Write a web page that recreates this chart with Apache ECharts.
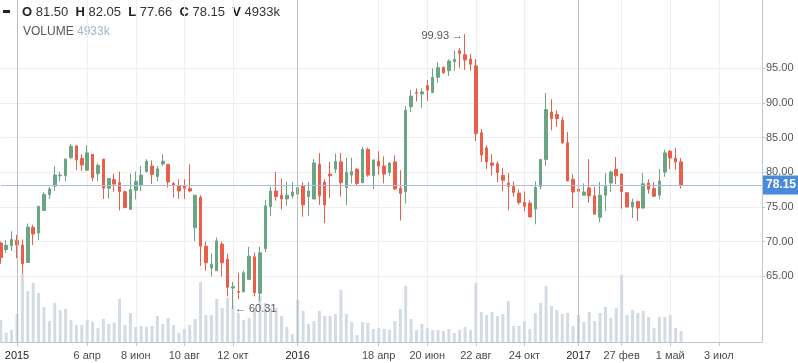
<!DOCTYPE html>
<html><head><meta charset="utf-8">
<script src="https://cdn.jsdelivr.net/npm/echarts@6/dist/echarts.min.js"></script>
<style>html,body{margin:0;padding:0;background:#fff}#c{width:798px;height:363px}</style>
</head><body><div id="c"></div>
<script>
// weekly bars, first bar = week of 2014-12-15
const firstWeek = '2014-12-15';
const weekCount = 142;
// [open, close, low, high]
const ohlc = [
[69.8,67.7,66.8,70.0],[68.85,69.47,68.4,70.2],[69.4,70.3,68.65,71.5],
[70.2,69.5,67.6,71.0],[69.5,66.8,65.3,70.3],[67.0,72.1,66.9,72.6],[72.07,71.1,69.5,72.45],
[71.25,75.1,70.2,75.1],[74.5,76.8,74.5,77.1],[76.8,77.6,76.15,77.9],[78.0,79.6,77.3,80.9],
[79.5,79.6,78.7,80.1],[79.5,81.9,78.7,82.0],[82.1,83.75,82.0,84.1],[83.8,81.8,80.3,83.9],
[82.0,81.05,80.2,82.6],[80.3,82.8,80.2,83.9],[82.6,79.2,78.7,82.6],[79.8,81.0,78.75,81.3],
[81.9,77.7,76.15,81.9],[77.7,79.1,76.2,79.1],[78.95,78.3,77.2,79.8],[78.5,77.2,74.5,80.1],
[77.2,74.9,74.85,77.4],[74.65,77.5,74.65,79.8],[77.4,78.7,76.1,80.1],[78.1,79.6,77.3,80.9],
[80.1,81.6,79.95,81.9],[80.9,79.7,78.3,81.7],[79.4,80.5,78.7,80.9],[81.2,81.6,80.9,82.6],
[81.15,78.6,77.8,81.15],[78.4,78.1,76.4,78.6],[78.0,77.3,76.15,79.0],[78.0,77.7,76.15,79.0],
[77.65,77.3,77.1,81.15],[72.0,76.7,70.1,76.7],[76.4,69.35,66.5,76.7],[69.35,66.95,65.8,70.0],
[66.2,66.75,64.95,68.3],[65.8,70.1,65.8,70.6],[69.65,66.95,64.95,70.0],[67.45,63.4,62.1,68.3],
[63.3,63.5,60.31,64.2],[62.8,62.7,61.7,65.5],[62.75,65.5,62.7,65.8],[64.55,67.9,64.5,69.25],
[67.8,62.65,62.1,68.4],[62.55,68.4,61.4,69.25],[69.0,75.15,68.5,76.0],[75.05,77.3,73.7,77.9],
[77.3,76.5,75.9,80.05],[76.7,76.15,74.65,79.1],[76.15,76.7,75.15,78.6],[76.6,77.15,76.2,78.6],
[76.85,77.8,76.2,81.5],[78.1,75.3,73.6,78.6],[76.5,77.3,73.7,78.6],[76.15,81.35,76.15,81.9],
[81.15,76.6,75.3,82.8],[78.6,75.3,72.65,79.0],[79.75,79.5,76.25,81.5],[80.45,81.6,79.9,82.7],
[81.5,78.5,76.5,82.8],[77.8,80.0,75.3,82.1],[79.6,80.1,78.4,82.1],[80.45,78.4,78.15,80.65],
[78.5,83.3,78.4,83.65],[83.3,79.6,79.35,83.55],[79.5,81.75,77.6,81.9],[81.6,80.9,79.6,83.05],
[80.9,79.75,78.4,82.3],[80.0,81.3,79.5,81.5],[81.5,77.6,77.45,82.45],[77.7,76.95,73.05,80.3],
[77.2,88.95,75.5,89.55],[89.45,91.0,88.7,91.85],[91.5,91.4,90.2,92.1],[91.3,91.6,89.3,92.1],
[92.5,91.85,90.3,93.3],[91.5,93.7,91.45,95.0],[93.7,95.1,92.9,95.85],[95.15,94.35,94.2,95.25],
[94.65,96.05,93.9,96.3],[95.95,96.3,94.65,97.55],[97.55,97.1,95.0,97.9],[96.95,96.2,94.75,99.93],
[96.35,95.6,94.65,97.1],[95.35,85.6,84.5,96.35],[85.7,82.5,81.5,86.2],[83.5,81.5,80.5,83.9],
[81.35,81.0,79.55,82.6],[81.25,79.95,78.6,81.6],[79.55,78.85,77.25,80.6],[78.45,77.95,74.5,79.9],
[77.95,77.1,76.5,78.7],[77.0,75.65,75.35,77.55],[75.65,75.1,74.4,77.25],[75.55,73.55,73.55,75.95],
[74.7,77.8,72.5,78.7],[77.95,81.85,77.55,81.95],[81.85,89.05,80.9,91.45],[88.7,87.75,86.05,90.55],
[88.35,87.75,86.55,88.95],[87.5,84.25,84.05,88.0],[84.25,78.75,78.75,85.8],[79.0,77.15,74.85,79.7],
[77.6,77.25,76.5,80.2],[76.7,77.15,76.7,78.4],[77.75,76.6,75.6,81.9],[76.6,73.95,73.95,77.9],
[73.5,76.7,72.8,78.6],[76.7,78.0,74.4,79.9],[78.45,80.05,77.15,80.25],[80.45,79.5,78.3,82.2],
[79.75,77.2,74.75,79.9],[77.05,75.0,74.9,77.15],[75.0,75.7,73.4,76.2],[75.8,74.85,73.0,75.8],
[74.85,78.35,74.75,79.9],[78.45,77.55,76.9,79.0],[77.65,76.55,76.45,78.6],[76.7,78.75,76.1,80.45],
[80.05,82.8,79.35,83.25],[83.05,82.05,80.45,83.25],[82.05,81.5,80.4,83.5],[81.5,78.15,77.66,82.05]
];
// volume, thousands
const volumes = [
9856,4170,5376,
12544,30330,22850,26430,21950,15680,9410,17470,14200,14780,9860,7620,7620,9860,9090,6270,10300,
8060,8650,19260,7620,12990,6720,7170,6850,7170,11650,8060,10750,7620,4030,5820,7620,10300,26880,
12100,12100,19260,15230,19710,16130,12990,9860,10750,14340,20610,17470,15230,15230,11650,6720,3580,
18820,13890,8060,9410,13890,11650,11650,12540,23300,12540,8960,3140,8960,8510,5820,6270,5820,5380,
9410,14780,25090,10300,5380,8060,6270,5380,5380,4930,5820,4030,5380,6720,5380,26430,13440,12100,
13440,11650,12540,18370,7170,7170,9410,5820,12990,17470,25090,16130,14340,12540,12990,7170,12100,
8960,13440,9410,12990,15680,10750,15230,30020,12100,14340,12990,13890,11200,6270,11200,11200,12100,
6270,4933
];
const tickDates = ['2015-01-05','2015-04-06','2015-06-08','2015-08-10','2015-10-12','2016-01-04','2016-04-18','2016-06-20','2016-08-22','2016-10-24','2017-01-02','2017-02-27','2017-05-01','2017-07-03'];
const tickLabels = ['2015','6 апр','8 июн','10 авг','12 окт','2016','18 апр','20 июн','22 авг','24 окт','2017','27 фев','1 май','3 июл'];
const yearDates = ['2015-01-05','2016-01-04','2017-01-02'];
const priceMin = 65, priceMax = 95, priceStep = 5;

const cats = [];
let d = new Date(firstWeek + 'T00:00:00Z');
for (let i = 0; i < weekCount; i++) { cats.push(d.toISOString().slice(0, 10)); d = new Date(d.getTime() + 7 * 864e5); }
const labelMap = {};
tickDates.forEach((t, i) => labelMap[t] = tickLabels[i]);
const candleData = cats.map((c, i) => i < ohlc.length ? ohlc[i] : '-');
const volData = cats.map((c, i) => i < volumes.length ? volumes[i] : '-');
const last = ohlc[ohlc.length - 1];
const lastVol = volumes[volumes.length - 1];
const isTick = (idx, val) => labelMap.hasOwnProperty(val);

const FONT = 'Liberation Sans, Arial, sans-serif';
const AX = '#b9c6d4';
const L = 0.8, R = 36;
const chart = echarts.init(document.getElementById('c'), null, {renderer: 'canvas'});
const fmtK = v => v + 'k';
chart.setOption({
  animation: false,
  backgroundColor: '#fff',
  textStyle: {fontFamily: FONT},
  grid: [
    {left: L, right: R, top: -1, height: 346.6, outerBoundsMode: 'none'},
    {left: L, right: R, top: 68.3, height: 208, outerBoundsMode: 'none'},
    {left: L, right: R, top: 0, height: 342, outerBoundsMode: 'none'}
  ],
  xAxis: [
    {type: 'category', gridIndex: 0, data: cats, boundaryGap: false, show: false},
    {type: 'category', gridIndex: 1, data: cats, boundaryGap: false, show: false},
    {type: 'category', gridIndex: 2, data: cats, boundaryGap: false,
      axisLine: {show: true, lineStyle: {color: AX}},
      axisTick: {show: true, interval: isTick, length: 4, lineStyle: {color: AX}},
      axisLabel: {interval: isTick, margin: 8, fontSize: 11, color: '#4d4d4d', fontFamily: FONT,
        formatter: v => { const t = labelMap[v] || ''; return /^\d{4}$/.test(t) ? '{y|' + t + '}' : t; },
        rich: {y: {color: '#222', fontSize: 11, fontFamily: FONT}}},
      splitLine: {show: true, interval: isTick, lineStyle: {color: '#efefef', width: 1}}}
  ],
  yAxis: [
    {type: 'value', gridIndex: 0, min: 55, max: 105, show: false},
    {type: 'value', gridIndex: 1, position: 'right', min: priceMin, max: priceMax, interval: priceStep,
      axisLine: {show: false},
      axisTick: {show: true, length: 3, lineStyle: {color: AX}},
      axisLabel: {show: true, margin: 4, fontSize: 11, color: '#555', fontFamily: FONT, formatter: v => v.toFixed(2)},
      splitLine: {show: true, lineStyle: {color: '#efefef'}}},
    {type: 'value', gridIndex: 2, position: 'right', min: 0, max: 153000,
      axisLine: {show: true, lineStyle: {color: AX}}, axisTick: {show: false}, axisLabel: {show: false}, splitLine: {show: false}}
  ],
  series: [
    {type: 'bar', xAxisIndex: 2, yAxisIndex: 2, data: volData, barWidth: 3, itemStyle: {color: '#d4dbe2'}, z: 1, silent: true,
      markLine: {silent: true, symbol: ['none', 'none'], label: {show: false}, lineStyle: {color: '#bdbdbd', type: 'solid', width: 1},
        data: yearDates.map(y => ({xAxis: y}))}},
    {type: 'candlestick', xAxisIndex: 0, yAxisIndex: 0, data: candleData, barWidth: 3, z: 3,
      itemStyle: {color: '#6ba583', color0: '#e8604c', borderColor: '#6ba583', borderColor0: '#e8604c', borderWidth: 1},
      markPoint: {symbol: 'circle', symbolSize: 0, silent: true,
        data: [
          {type: 'max', valueDim: 'highest', label: {show: true, position: 'left', distance: 2, formatter: p => p.value.toFixed(2) + ' \u2192', color: '#555', fontSize: 11, fontFamily: FONT, offset: [0, 2]}},
          {type: 'min', valueDim: 'lowest', label: {show: true, position: 'right', distance: 2, formatter: p => '\u2190 ' + p.value.toFixed(2), color: '#555', fontSize: 11, fontFamily: FONT}}
        ]},
      markLine: {silent: true, symbol: ['none', 'none'], lineStyle: {color: '#a8bde0', type: 'solid', width: 1},
        label: {show: true, position: 'end', distance: 1, formatter: p => p.value.toFixed(2), backgroundColor: '#4a89dc', color: '#fff',
          fontWeight: 'bold', fontSize: 12, fontFamily: FONT, padding: [4, 3, 3, 3]},
        data: [{yAxis: last[1]}]}}
  ],
  graphic: [
    {type: 'rect', x: 3, y: 10, shape: {width: 7, height: 3}, style: {fill: '#222'}, silent: true},
    {type: 'text', x: 22, y: 12, silent: true, style: {
      text: '{b|O} {v|' + last[0].toFixed(2) + '}  {b|H} {v|' + last[3].toFixed(2) + '}  {b|L} {v|' + last[2].toFixed(2) + '}  {b|C} {v|' + last[1].toFixed(2) + '}  {b|V} {v|' + fmtK(lastVol) + '}',
      verticalAlign: 'middle', fontFamily: FONT, fontSize: 13,
      rich: {b: {fontWeight: 'bold', fill: '#222', fontSize: 13, fontFamily: FONT}, v: {fill: '#333', fontSize: 13, fontFamily: FONT}}}},
    {type: 'text', x: 23, y: 32, silent: true, style: {
      text: '{a|VOLUME} {k|' + fmtK(lastVol) + '}', verticalAlign: 'middle', fontFamily: FONT, fontSize: 12,
      rich: {a: {fill: '#555', fontSize: 12, fontFamily: FONT}, k: {fill: '#a3b6c9', fontSize: 12, fontFamily: FONT}}}}
  ]
});
</script></body></html>
